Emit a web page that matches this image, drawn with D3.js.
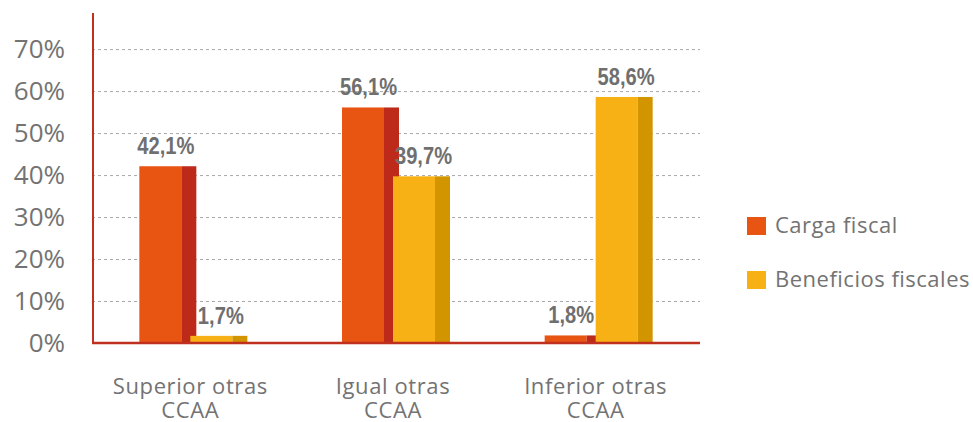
<!DOCTYPE html>
<html><head><meta charset="utf-8">
<script src="https://cdn.jsdelivr.net/npm/d3@7/dist/d3.min.js"></script>
<style>
body{margin:0;background:#fff;}
svg{display:block;}
</style></head>
<body>
<svg id="chart" width="973" height="422"></svg>
<script>
const categories = [["Superior otras","CCAA"],["Igual otras","CCAA"],["Inferior otras","CCAA"]];
const seriesNames = ["Carga fiscal","Beneficios fiscales"];
const cargaFiscal = [42.1, 56.1, 1.8];
const beneficiosFiscales = [1.7, 39.7, 58.6];
const yTicks = [0,10,20,30,40,50,60,70];

const frontColors = ["#e85412","#f7b114"];
const sideColors = ["#bd2a19","#d29500"];
const textGray = "#737373";
const axisRed = "#c0301f";
const fontMain = "'Open Sans', 'Noto Sans', sans-serif";
const fontLabel = "'Liberation Sans', Arial, sans-serif";

const svg = d3.select("#chart");
const x0 = d3.scaleBand().domain(d3.range(categories.length)).range([92, 700]).padding(0);
const y = d3.scaleLinear().domain([0, 78.6]).range([343, 13]);

const front = 42, side = 15;
const offsets = [-54, -3];

// gridlines
svg.append("g").selectAll("line").data(yTicks.filter(d => d > 0)).join("line")
  .attr("x1", 92).attr("x2", 700)
  .attr("y1", d => y(d) + 0.5).attr("y2", d => y(d) + 0.5)
  .attr("stroke", "#a8a8a8").attr("stroke-width", 1).attr("stroke-dasharray", "3,3");

// y tick labels
svg.append("g").selectAll("text").data(yTicks).join("text")
  .attr("x", 65).attr("y", d => y(d) + 9)
  .attr("text-anchor", "end")
  .attr("font-family", fontMain).attr("font-size", 26)
  .attr("fill", textGray)
  .text(d => d + "%");

const series = [cargaFiscal, beneficiosFiscales];
const fmt = v => v.toFixed(1).replace(".", ",") + "%";

series.forEach((vals, s) => {
  const g = svg.append("g");
  vals.forEach((v, i) => {
    const cx = x0(i) + x0.bandwidth() / 2;
    const bx = cx + offsets[s];
    g.append("rect").attr("x", bx).attr("y", y(v)).attr("width", front).attr("height", y(0) - y(v)).attr("fill", frontColors[s]);
    g.append("rect").attr("x", bx + front).attr("y", y(v)).attr("width", side).attr("height", y(0) - y(v)).attr("fill", sideColors[s]);
    g.append("text")
      .attr("transform", `translate(${bx + (front + side) / 2 + (s === 1 ? 2 : -2)},${y(v) - 12}) scale(0.84,1)`)
      .attr("text-anchor", "middle")
      .attr("font-family", fontLabel).attr("font-weight", "bold").attr("font-size", 24)
      .attr("fill", "#6f6f6f")
      .text(fmt(v));
  });
});

// axes lines
svg.append("line").attr("x1", 93).attr("x2", 93).attr("y1", y(78.6)).attr("y2", y(0) + 1)
  .attr("stroke", axisRed).attr("stroke-width", 2);
svg.append("line").attr("x1", 92).attr("x2", 700).attr("y1", y(0)).attr("y2", y(0))
  .attr("stroke", axisRed).attr("stroke-width", 2.5);

// x labels
const xl = svg.append("g");
categories.forEach((lines, i) => {
  const cx = x0(i) + x0.bandwidth() / 2 - 3;
  lines.forEach((t, k) => {
    xl.append("text").attr("x", cx).attr("y", 394 + k * 24)
      .attr("text-anchor", "middle")
      .attr("font-family", fontMain).attr("font-size", 22)
      .attr("letter-spacing", 0.6)
      .attr("fill", textGray).text(t);
  });
});

// legend
const lg = svg.append("g");
seriesNames.forEach((n, s) => {
  lg.append("rect").attr("x", 747).attr("y", 217 + s * 54).attr("width", 19).attr("height", 18).attr("fill", frontColors[s]);
  lg.append("text").attr("x", 775).attr("y", 233 + s * 54)
    .attr("font-family", fontMain).attr("font-size", 22)
    .attr("letter-spacing", 0.5)
    .attr("fill", textGray).text(n);
});
</script>
</body></html>
